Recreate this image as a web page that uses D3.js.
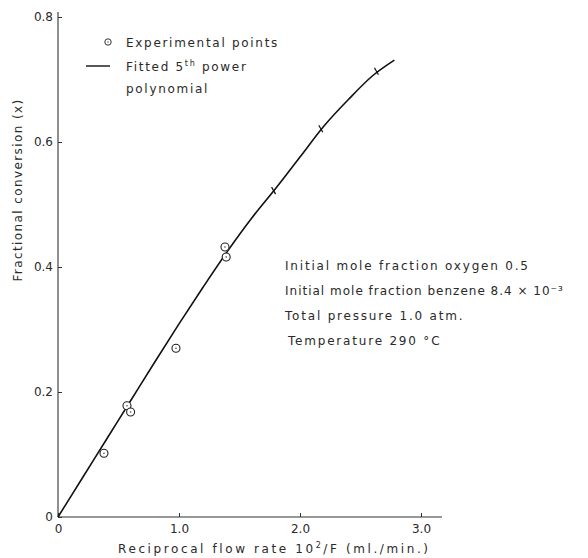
<!DOCTYPE html>
<html>
<head>
<meta charset="utf-8">
<script src="https://cdn.jsdelivr.net/npm/d3@7"></script>
<style>
  body { margin: 0; background: #fff; }
  text { font-family: "DejaVu Sans", sans-serif; fill: #2a2a2a; }
</style>
</head>
<body>
<div class="canvas"></div>
<script>
// values
const xTicks = [0, 1, 2, 3];
const xTickLabels = ["0", "1.0", "2.0", "3.0"];
const yTicks = [0, 0.2, 0.4, 0.6, 0.8];
const yTickLabels = ["0", "0.2", "0.4", "0.6", "0.8"];

// experimental points (circles)
const expX = [0.38, 0.57, 0.60, 0.975, 1.38, 1.39];
const expY = [0.102, 0.178, 0.168, 0.270, 0.432, 0.416];

// points sitting on the curve (drawn as small ticks)
const markX = [1.79, 2.18, 2.64];
const markY = [0.523, 0.622, 0.714];

// fitted 5th power polynomial
const fitX = [0, 0.2, 0.4, 0.6, 0.8, 1.0, 1.2, 1.4, 1.6, 1.8, 2.0, 2.2, 2.4, 2.6, 2.78];
const fitY = [0, 0.062, 0.124, 0.186, 0.248, 0.309, 0.368, 0.425, 0.478, 0.526, 0.576, 0.626, 0.668, 0.706, 0.731];

const notes = [
  "Initial mole fraction oxygen  0.5",
  "Initial mole fraction benzene 8.4 \u00d7 10\u207b\u00b3",
  "Total  pressure  1.0 atm.",
  "Temperature 290 \u00b0C"
];
const noteSpacing = [1.8, 1.0, 1.8, 1.8];

const svg = d3.select('.canvas')
  .append('svg')
  .attr('width', 588)
  .attr('height', 558);

const x = d3.scaleLinear().domain([0, 3]).range([58, 421]);
const y = d3.scaleLinear().domain([0, 0.8]).range([517, 17]);

// axes
const xAxis = svg.append('g')
  .attr('transform', `translate(0, ${y(0)})`)
  .call(d3.axisBottom(x).tickValues(xTicks).tickSizeInner(-4).tickSizeOuter(0)
    .tickFormat((d, i) => xTickLabels[i]));
xAxis.select('.domain').attr('d', `M${x(0)},0H442`);

const yAxis = svg.append('g')
  .attr('transform', `translate(${x(0)}, 0)`)
  .call(d3.axisLeft(y).tickValues(yTicks).tickSizeInner(-4).tickSizeOuter(0)
    .tickFormat((d, i) => yTickLabels[i]));
yAxis.select('.domain').attr('d', `M0,${y(0)}V12`);

svg.selectAll('.domain').attr('stroke', '#333').attr('stroke-width', 1.1);
svg.selectAll('.tick line').attr('stroke', '#333');
svg.selectAll('.tick text')
  .style('font-family', '"DejaVu Sans", sans-serif')
  .style('font-size', '12px')
  .attr('fill', '#333');
xAxis.selectAll('.tick text').attr('dy', '1.1em');
yAxis.selectAll('.tick text').attr('x', -5);

// fitted curve
const line = d3.line()
  .x(d => x(d[0]))
  .y(d => y(d[1]))
  .curve(d3.curveMonotoneX);

svg.append('path')
  .datum(d3.zip(fitX, fitY))
  .attr('d', line)
  .attr('fill', 'none')
  .attr('stroke', '#111')
  .attr('stroke-width', 1.6);

// small ticks on the curve
svg.selectAll('.mark')
  .data(d3.zip(markX, markY))
  .enter()
  .append('line')
  .attr('x1', d => x(d[0]) - 3)
  .attr('y1', d => y(d[1]) - 3)
  .attr('x2', d => x(d[0]) + 1)
  .attr('y2', d => y(d[1]) + 4)
  .attr('stroke', '#111')
  .attr('stroke-width', 1.2);

// experimental points
const pts = svg.selectAll('.pt')
  .data(d3.zip(expX, expY))
  .enter()
  .append('g')
  .attr('transform', d => `translate(${x(d[0])}, ${y(d[1])})`);

pts.append('circle')
  .attr('r', 4)
  .attr('fill', 'white')
  .attr('stroke', '#222')
  .attr('stroke-width', 1.1);
pts.append('circle')
  .attr('r', 0.8)
  .attr('fill', '#444');

// legend
const legend = svg.append('g');
legend.append('circle').attr('cx', 108).attr('cy', 42).attr('r', 3.2)
  .attr('fill', 'none').attr('stroke', '#333');
legend.append('circle').attr('cx', 108).attr('cy', 42).attr('r', 0.7).attr('fill', '#444');
legend.append('text').attr('x', 126).attr('y', 47)
  .style('font-size', '12px').style('letter-spacing', '1.7px')
  .text('Experimental points');
legend.append('line').attr('x1', 86).attr('x2', 110).attr('y1', 66).attr('y2', 66)
  .attr('stroke', '#111').attr('stroke-width', 1.4);
const fitted = legend.append('text').attr('x', 126).attr('y', 71)
  .style('font-size', '12px').style('letter-spacing', '1.7px');
fitted.append('tspan').text('Fitted 5');
fitted.append('tspan').attr('dy', -5).style('font-size', '8px').text('th');
fitted.append('tspan').attr('dy', 5).text(' power');
legend.append('text').attr('x', 126).attr('y', 93)
  .style('font-size', '12px').style('letter-spacing', '1.7px')
  .text('polynomial');

// conditions
svg.selectAll('.note')
  .data(notes)
  .enter()
  .append('text')
  .attr('x', (d, i) => i === 3 ? 288 : 285)
  .attr('y', (d, i) => 270 + i * 25)
  .style('font-size', '12px')
  .style('letter-spacing', (d, i) => noteSpacing[i] + 'px')
  .text(d => d);

// axis titles
const xt = svg.append('text').attr('x', 118).attr('y', 553)
  .style('font-size', '12px').style('letter-spacing', '2.6px');
xt.append('tspan').text('Reciprocal  flow rate 10');
xt.append('tspan').attr('dy', -5).style('font-size', '8px').text('2');
xt.append('tspan').attr('dy', 5).text('/F  (ml./min.)');

svg.append('text')
  .attr('transform', 'translate(22, 190) rotate(-90)')
  .attr('text-anchor', 'middle')
  .style('font-size', '12px')
  .style('letter-spacing', '1.4px')
  .text('Fractional  conversion (x)');
</script>
</body>
</html>
